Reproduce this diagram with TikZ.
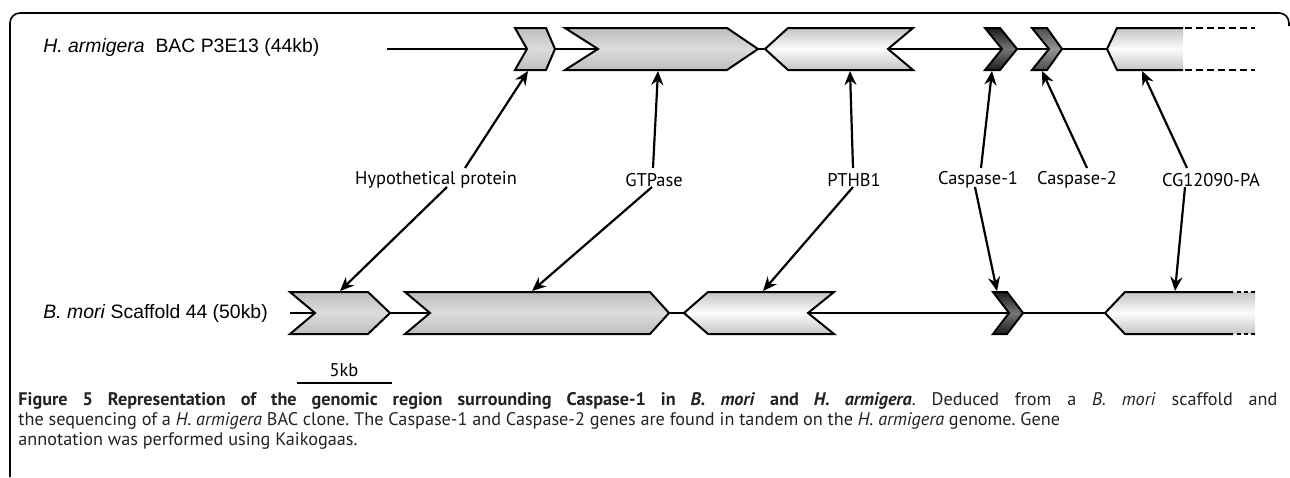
\documentclass[tikz,border=0pt]{standalone}
\usepackage{fontspec}
\setmainfont{Liberation Sans}
\newfontfamily\capfont{PT Sans}
\usetikzlibrary{arrows.meta,calc}
\definecolor{gmA}{HTML}{BDBDBD}
\definecolor{gmB}{HTML}{DCDCDC}
\definecolor{glA}{HTML}{C4C4C4}
\definecolor{glB}{HTML}{FCFCFC}
\definecolor{gdA}{HTML}{1C1C1C}
\definecolor{gdB}{HTML}{767676}
\definecolor{gcA}{HTML}{4E4E4E}
\definecolor{gcB}{HTML}{949494}
\definecolor{captcol}{HTML}{222222}
\begin{document}
\frenchspacing
\begin{tikzpicture}[x=0.5pt,y=-0.5pt,
  gene/.style={draw=black,line width=1pt,line join=miter},
  gmed/.style={gene,top color=gmA,bottom color=gmA,middle color=gmB},
  glight/.style={gene,top color=glA,bottom color=glA,middle color=glB},
  gdark/.style={gene,top color=gdA,bottom color=gdA,middle color=gdB},
  gcasp/.style={gene,top color=gcA,bottom color=gcA,middle color=gcB},
  backbone/.style={line width=1pt},
  outl/.style={line width=1pt,line join=miter},
  dashl/.style={line width=1pt,dash pattern=on 3.5pt off 2pt},
  conn/.style={line width=1.1pt,-{Stealth[length=7pt,width=6pt]}},
  lbl/.style={inner sep=0pt,font=\capfont\fontsize{9.2}{11}\selectfont},
  side/.style={inner sep=0pt,anchor=west,font=\fontsize{9.7}{11}\selectfont},
  capt/.style={inner sep=0pt,anchor=base west,text=captcol,font=\capfont\fontsize{9.1}{10.25}\selectfont}]
\useasboundingbox (0,0) rectangle (1290,477);
% frame
\draw[line width=0.8pt,rounded corners=5pt] (10,477) -- (10,13) -- (1289,13) -- (1289,26);
% side labels
\node[side] (ha) at (43,47) {\textit{H. armigera}\ \ BAC P3E13 (44kb)};
\node[side] (bm) at (43,313) {\textit{B. mori} Scaffold 44 (50kb)};
% backbones
\draw[backbone] (387,49) -- (1107,49);
\draw[backbone] (290,313) -- (1105,313);
% top genes
\path[gmed] (515,28) -- (546,28) -- (555,49) -- (546,70) -- (515,70) -- (527,49) -- cycle;
\path[gmed] (565,28) -- (727,28) -- (758,49) -- (727,70) -- (565,70) -- (598,49) -- cycle;
\path[glight] (765,49) -- (788,28) -- (913,28) -- (888,49) -- (913,70) -- (788,70) -- cycle;
\path[gdark] (985,28) -- (1000,28) -- (1017,49) -- (1000,70) -- (985,70) -- (1002,49) -- cycle;
\path[gcasp] (1032,28) -- (1047,28) -- (1062,49) -- (1047,70) -- (1032,70) -- (1049,49) -- cycle;
\shade[top color=glA,bottom color=glA,middle color=glB] (1107,49) -- (1117,28) -- (1183,28) -- (1183,70) -- (1117,70) -- cycle;
\draw[outl] (1183,28) -- (1117,28) -- (1107,49) -- (1117,70) -- (1183,70);
\draw[dashl] (1185,28) -- (1255,28);
\draw[dashl] (1185,70) -- (1255,70);
% bottom genes
\path[gmed] (290,292) -- (368,292) -- (390,313) -- (368,334) -- (290,334) -- (315,313) -- cycle;
\path[gmed] (405,292) -- (650,292) -- (669,313) -- (650,334) -- (405,334) -- (430,313) -- cycle;
\path[glight] (684,313) -- (708,292) -- (834,292) -- (808,313) -- (834,334) -- (708,334) -- cycle;
\path[gdark] (993,292) -- (1007,292) -- (1023,313) -- (1007,334) -- (993,334) -- (1009,313) -- cycle;
\shade[top color=glA,bottom color=glA,middle color=glB] (1105,313) -- (1125,292) -- (1255,292) -- (1255,334) -- (1125,334) -- cycle;
\draw[outl] (1233,292) -- (1125,292) -- (1105,313) -- (1125,334) -- (1233,334);
\draw[line width=1pt,dash pattern=on 2pt off 1.5pt] (1237,292) -- (1255,292);
\draw[line width=1pt,dash pattern=on 2pt off 1.5pt] (1237,334) -- (1255,334);
% attachment points
\coordinate (t1) at (528,71);
\coordinate (t2) at (658,71);
\coordinate (t3) at (850,71);
\coordinate (t4) at (992,71);
\coordinate (t5) at (1042,71);
\coordinate (t6) at (1142,71);
\coordinate (u1) at (340,291);
\coordinate (u2) at (532,291);
\coordinate (u3) at (763,291);
\coordinate (u4) at (997,291);
\coordinate (u6) at (1175,291);
% labels
\node[lbl] (hyp) at (436,180) {Hypothetical protein};
\node[lbl] (gtp) at (654,180) {GTPase};
\node[lbl] (pth) at (854,180) {PTHB1};
\node[lbl] (cs1) at (978,180) {Caspase-1};
\node[lbl] (cs2) at (1077,180) {Caspase-2};
\node[lbl] (cgp) at (1211,180) {CG12090-PA};
% connectors
\draw[conn] ($(hyp)+(29,-12)$) -- (t1);
\draw[conn] ($(hyp)+(11,7)$) -- (u1);
\draw[conn] ($(gtp)+(-1,-12)$) -- (t2);
\draw[conn] ($(gtp)+(-2,7)$) -- (u2);
\draw[conn] ($(pth)+(-1,-12)$) -- (t3);
\draw[conn] ($(pth)+(-1,7)$) -- (u3);
\draw[conn] ($(cs1)+(3,-12)$) -- (t4);
\draw[conn] ($(cs1)+(-3,7)$) -- (u4);
\draw[conn] ($(cs2)+(10,-12)$) -- (t5);
\draw[conn] ($(cgp)+(-24,-12)$) -- (t6);
\draw[conn] ($(cgp)+(-26,7)$) -- (u6);
% scale bar
\coordinate (sbA) at (297,383);
\coordinate (sbB) at (392,383);
\draw[line width=1pt] (sbA) -- (sbB);
\node[lbl] (sbl) at (344,370) {5kb};
% caption
\node[capt] (cap1) at (18,405) {\makebox[629.5pt][s]{\textbf{Figure 5 Representation of the genomic region surrounding Caspase-1 in \textit{B. mori} and \textit{H. armigera}}. Deduced from a \textit{B. mori} scaffold and}};
\node[capt] (cap2) at (18,425) {the sequencing of a \textit{H. armigera} BAC clone. The Caspase-1 and Caspase-2 genes are found in tandem on the \textit{H. armigera} genome. Gene};
\node[capt] (cap3) at (18,445) {annotation was performed using Kaikogaas.};
\end{tikzpicture}
\end{document}
